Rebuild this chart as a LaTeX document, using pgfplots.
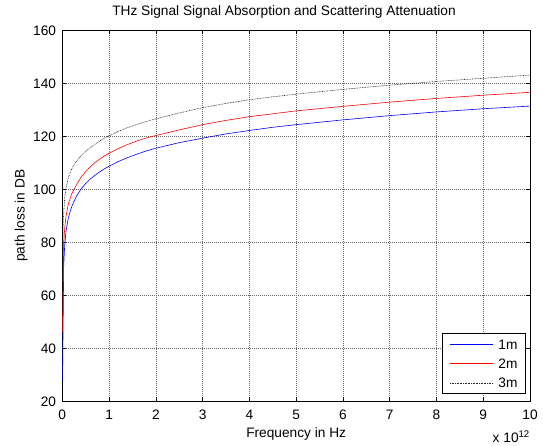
\documentclass[border=0pt]{standalone}
\usepackage{fontspec}
\setmainfont{Liberation Sans}
\usepackage{pgfplots}
\pgfplotsset{compat=1.18}

\begin{document}
\begin{tikzpicture}
% fixed page: 543 x 446 px, axis box 62.3..530 / 30.3..401.3
\useasboundingbox (-62.3bp,-44.7bp) rectangle (480.7bp,401.3bp);
\begin{axis}[
  scale only axis,
  width=467.7bp, height=371bp,
  xmin=0, xmax=10, ymin=20, ymax=160,
  xtick={0,1,...,10}, ytick={20,40,...,160},
  font=\fontsize{13.7bp}{16bp}\selectfont,
  /pgf/number format/assume math mode=true,
  tick align=inside,
  major tick length=4bp,
  grid=major,
  grid style={dash pattern=on 0.7bp off 1.3bp, black!60, line width=0.5bp},
  axis line style={line width=0.6bp},
  tick style={line width=0.6bp, black},
  xticklabel style={anchor=base, yshift=-17.7bp, inner sep=0pt},
  yticklabel style={anchor=east, xshift=-6bp, inner sep=0pt},
  title={THz Signal Signal Absorption and Scattering Attenuation},
  title style={at={(axis description cs:0.474,1.0232)}, anchor=base, inner sep=0pt},
  xlabel={Frequency in Hz},
  xlabel style={at={(axis description cs:0.5,-0.0989)}, anchor=base, inner sep=0pt},
  ylabel={path loss in DB},
  ylabel style={at={(axis description cs:-0.0883,0.5)}, anchor=center, inner sep=0pt},
  legend style={at={(axis description cs:0.991,0.0197)}, anchor=south east,
    draw=black, line width=0.6bp, fill=white,
    inner xsep=8bp, inner ysep=6bp, row sep=9.6bp,
    nodes={inner sep=0pt, text height=9.7bp, text depth=0pt},
    /tikz/every odd column/.append style={column sep=5bp}},
  legend cell align=left,
  legend image code/.code={\draw[#1] (0bp,0bp) -- (43bp,0bp);},
]
\addplot[blue, line width=0.6bp] coordinates {
  (0.005,27.5) (0.03,71) (0.05,78.5) (0.08,84.3) (0.13,89.3) (0.2,93.4)
  (0.3,97.3) (0.4,100.1) (0.5,102.2) (0.6,103.9) (0.7,105.3) (0.8,106.6)
  (0.9,107.7) (1,108.7) (1.2,110.5) (1.4,112) (1.6,113.3) (1.8,114.5)
  (2,115.5) (2.5,117.6) (3,119.3) (3.5,120.9) (4,122.2) (4.5,123.4)
  (5,124.4) (6,126.2) (7,127.8) (8,129.2) (9,130.4) (10,131.4)
};
\addplot[red, line width=0.6bp] coordinates {
  (0.005,46.2) (0.03,79) (0.05,85) (0.08,90) (0.13,94.5) (0.2,98.2)
  (0.3,101.7) (0.4,104.5) (0.5,106.7) (0.6,108.5) (0.7,110.1) (0.8,111.4)
  (0.9,112.6) (1,113.6) (1.2,115.4) (1.4,116.9) (1.6,118.3) (1.8,119.4)
  (2,120.3) (2.5,122.4) (3,124.4) (3.5,126) (4,127.4) (4.5,128.5)
  (5,129.6) (6,131.3) (7,132.9) (8,134.3) (9,135.5) (10,136.6)
};
\addplot[black!85, line width=0.6bp, dash pattern=on 0.8bp off 0.8bp] coordinates {
  (0.005,60) (0.02,88) (0.05,96.5) (0.08,100.5) (0.13,104.5) (0.2,107.7)
  (0.3,110.5) (0.4,112.7) (0.5,114.3) (0.6,115.7) (0.7,117) (0.8,118.2)
  (0.9,119.3) (1,120.2) (1.2,121.9) (1.4,123.3) (1.6,124.5) (1.8,125.6)
  (2,126.6) (2.5,128.8) (3,130.8) (3.5,132.4) (4,133.8) (4.5,134.9)
  (5,135.9) (6,137.7) (7,139.3) (8,140.7) (9,141.9) (10,143.1)
};
\legend{1m,2m,3m}
\end{axis}
\node[anchor=base east, inner sep=0pt, font=\fontsize{13.7bp}{16bp}\selectfont]
  at (467.7bp,-41.4bp) {x 10\textsuperscript{12}};
\end{tikzpicture}
\end{document}
